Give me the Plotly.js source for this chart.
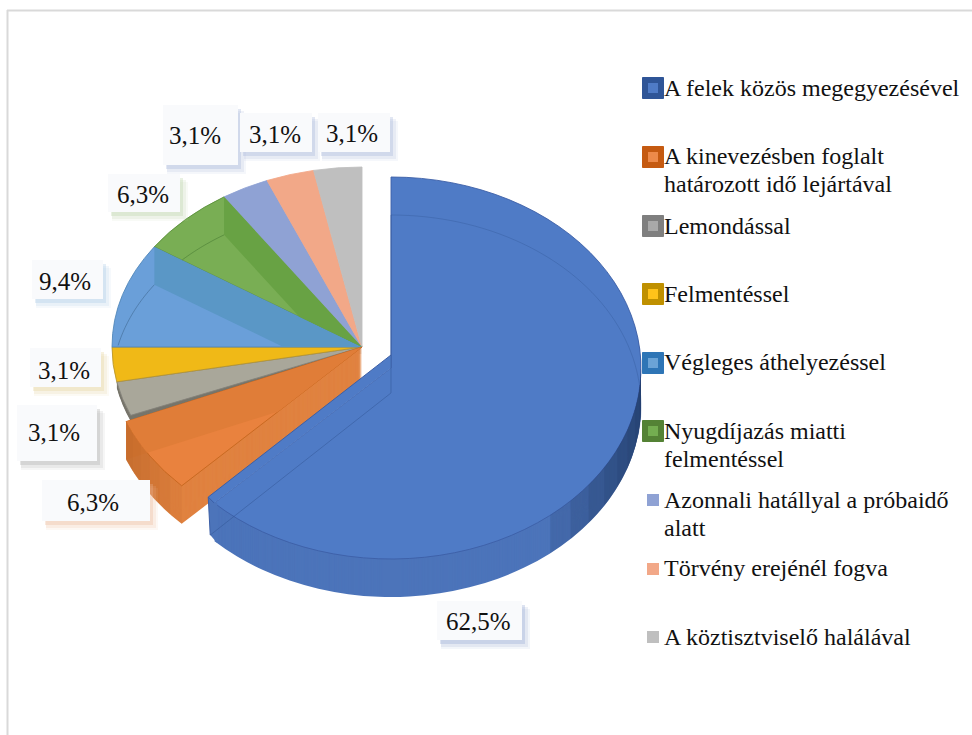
<!DOCTYPE html>
<html><head><meta charset="utf-8">
<script src="https://cdn.plot.ly/plotly-3.0.1.min.js"></script>
<style>html,body{margin:0;padding:0;background:#fff}#c{width:972px;height:735px}</style></head>
<body><div id="c"></div>
<script>
const categories = ["A felek közös megegyezésével","A kinevezésben foglalt<br>határozott idő lejártával","Lemondással","Felmentéssel","Végleges áthelyezéssel","Nyugdíjazás miatti<br>felmentéssel","Azonnali hatállyal a próbaidő<br>alatt","Törvény erejénél fogva","A köztisztviselő halálával"];
const shares = [62.5,6.3,3.1,3.1,9.4,6.3,3.1,3.1,3.1];
const shareLabels = ["62,5%","6,3%","3,1%","3,1%","9,4%","6,3%","3,1%","3,1%","3,1%"];
const topColors = ["#4f7bc6","#e9823e","#a9a79a","#f0b917","#6a9fd9","#79ae54","#8fa2d4","#f2a888","#bfbfbf"];
const lineColors = ["#3c5fa6","#c5661e","#85827a","#b8952c","#4f86b8","#5a8f3a","#8fa2d4","#f2a888","#bfbfbf"];
const legendOuter = ["#2f5597","#c55a11","#7f7f7f","#bf9000","#2e75b6","#548235",null,null,null];
const legendInner = ["#4f7bc6","#ed8a4a","#a9a9a9","#ffc31a","#6ba3d6","#74ad50","#8fa2d4","#f2a888","#bfbfbf"];
const legendLineY = [[88],[156,184],[226],[294],[362],[431,459],[500,528],[568],[637]];
const legendMarkY = [88,157,226,294,363,431,500,569,637];
const labelBoxes = [[437,601,522,640],[42,480,150,521],[17,405,97,461],[30,348,101,387],[32,260,103,299],[108,174,180,212],[163,105,238,165],[240,113,312,152],[318,113,390,152]];
const labelText = [[478,621],[93,502],[54,432],[64,370],[65,281],[143,194],[195,136],[275,134],[352,133]];
const labelTint = ["#8ea3cf","#eab795","#a9a9a9","#e3cf95","#a6c6e6","#b7cfa3","#9fb0d6","#9fb0d6","#9fb0d6"];

const W=972,H=735,T="rgba(0,0,0,0)";
const sum=shares.reduce((a,b)=>a+b,0);
const cum=[];shares.reduce((a,b,i)=>(cum[i]=a+b,cum[i]),0);
const ang=i=>(i<0?0:cum[i])/sum*2*Math.PI;
const place=[];
function pie(idx,colorOf,g,d,lw){
  place.push({cy:g.cy+d,k:g.k});
  return {type:'pie',values:shares,labels:categories,sort:false,direction:'clockwise',rotation:0,textinfo:'none',hoverinfo:'skip',showlegend:false,
    domain:{x:[(g.cx-g.r)/W,(g.cx+g.r)/W],y:[(H/2-g.r)/H,(H/2+g.r)/H]},
    marker:{colors:shares.map((_,i)=>idx.includes(i)?colorOf(i):T),
      line:{color:shares.map((_,i)=>idx.includes(i)&&lw?lineColors[i]:T),width:shares.map((_,i)=>idx.includes(i)&&lw?lw:0)}}};
}
const back={cx:362,cy:347,k:.72,r:250},org={cx:362,cy:347,k:.77,r:255},blu={cx:391,cy:368,k:.764,r:250};
const depth=38,data=[];
for(let d=6;d>0;d-=1)data.push(pie([2],()=>"#77756b",back,d,0));
data.push(pie([2,3,4,5,6,7,8],i=>topColors[i],back,0,1));
for(let d=depth;d>0;d-=1)data.push(pie([1],()=>"#e08240",org,d,0));
data.push(pie([1],i=>topColors[i],org,0,1));
for(let d=depth;d>0;d-=1)data.push(pie([0],()=>"#4c74ba",blu,d,0));
data.push(pie([0],i=>topColors[i],blu,0,1));

const px=x=>x/W, py=y=>1-y/H;
const pathOf=(pts,close)=>pts.map((p,i)=>(i?"L":"M")+px(p[0]).toFixed(5)+" "+py(p[1]).toFixed(5)).join(" ")+(close?" Z":"");
function rim(g,a,d){return [g.cx+g.r*Math.sin(a),g.cy+(d||0)-g.r*g.k*Math.cos(a)];}
function cross(a,b,c,e){const d1=[b[0]-a[0],b[1]-a[1]],d2=[e[0]-c[0],e[1]-c[1]];
  const t=((c[0]-a[0])*d2[1]-(c[1]-a[1])*d2[0])/(d1[0]*d2[1]-d1[1]*d2[0]);return [a[0]+t*d1[0],a[1]+t*d1[1]];}
const shapes=[];
const addPath=(pts,close,fill,line,op)=>shapes.push({type:'path',xref:'paper',yref:'paper',layer:'above',path:pathOf(pts,close),fillcolor:fill||T,opacity:op==null?1:op,line:line||{width:0}});
function band(g,i,d,fill,arc){
  const a1=ang(i),a0=ang(i-1),apex=[g.cx,g.cy],P1=rim(g,a1),P2=rim(g,a1,d),ap2=[g.cx,g.cy+d],P0=rim(g,a0);
  const P3=cross(P2,ap2,apex,P0);
  addPath([apex,P1,P2,P3],true,fill);
  if(!arc)return;
  const pts=[];const side=p=>(P0[0]-apex[0])*(p[1]-apex[1])-(P0[1]-apex[1])*(p[0]-apex[0]);
  const s0=side(P2);
  for(let t=0;t<=40;t++){const p=rim(g,a1+(a0-a1)*t/40,d);if(side(p)*s0<0)break;pts.push(p);}
  if(pts.length>1)addPath(pts,false,null,{color:arc,width:1});
}
function wallPiece(g,a0,a1,d,fill,op){
  const up=[],dn=[];
  for(let t=0;t<=16;t++){const a=a0+(a1-a0)*t/16;up.push(rim(g,a));dn.unshift(rim(g,a,d));}
  addPath(up.concat(dn),true,fill,null,op);
}
band(back,4,38,"#5a97c6","rgba(60,100,140,.55)");
band(back,5,38,"#68a244","rgba(70,120,50,.55)");
band(org,1,38,"#e07d38",null);
// shaded outer wall of the orange slice, darkest at its upper end (overlapping pieces, so no seams)
{const a0=ang(0),a1=ang(1),n=6;
 for(let j=1;j<=n;j++)wallPiece(org,a1,a1-(a1-a0)*j/n,depth,"#b8632a",.13);}
// perspective correction of the large slice: its apex and front corner sit further out than the ellipse gives
const apexLift=13,cornerOut=[-6,-6];
{const a=ang(0),c=rim(blu,a),ap=[blu.cx,blu.cy],ap1=[blu.cx,blu.cy-apexLift],c1=[c[0]+cornerOut[0],c[1]+cornerOut[1]];
 addPath([[c[0]+3,c[1]],c1,[c1[0]+2,c1[1]+depth],[c[0]+3,c[1]+depth+2]],true,"#4c74ba");
 addPath([ap1,c1,c,ap],true,topColors[0]);
 addPath([ap1,c1,[c1[0]+2,c1[1]+depth]],false,null,{color:lineColors[0],width:1});
 addPath([c1,c],false,null,{color:lineColors[0],width:1});
 // faint bottom-face outlines seen through the large slice
 const ap2=[blu.cx,blu.cy+depth-apexLift],e=[c1[0]+2,c1[1]+depth],pts=[];
 addPath([e,ap2,[blu.cx,rim(blu,0,depth)[1]]],false,null,{color:"rgba(50,85,150,.5)",width:1});
 for(let t=0;t<=50;t++)pts.push(rim(blu,t/50*Math.PI*.55,depth));
 addPath(pts,false,null,{color:"rgba(50,85,150,.35)",width:1});
 // dark shading of the wall at the right edge (overlapping pieces, so no seams)
 const s=Math.PI/2,step=.11;
 for(let j=1;j<=8;j++)wallPiece(blu,s,s+step*j,depth,"#1f3560",.17);
}
// frame
shapes.push({type:'line',xref:'paper',yref:'paper',x0:px(7.5),x1:px(7.5),y0:py(10),y1:py(735),line:{color:"#d9d9d9",width:2}});
shapes.push({type:'line',xref:'paper',yref:'paper',x0:px(7),x1:px(972),y0:py(10.5),y1:py(10.5),line:{color:"#d9d9d9",width:2}});
const rect=(x0,y0,x1,y1,fill,op)=>shapes.push({type:'rect',xref:'paper',yref:'paper',layer:'above',x0:px(x0),x1:px(x1),y0:py(y1),y1:py(y0),fillcolor:fill,opacity:op,line:{width:0}});
labelBoxes.forEach((b,i)=>{
  rect(b[0]+4,b[1]+8,b[2]+8,b[3]+9,labelTint[i],.10);
  rect(b[0]+4,b[1]+6,b[2]+6,b[3]+7,labelTint[i],.16);
  rect(b[0]+3,b[1]+4,b[2]+3,b[3]+4,labelTint[i],.3);
  rect(b[0],b[1],b[2],b[3],"#f9fafc",1);
});
legendMarkY.forEach((y,i)=>{
  if(legendOuter[i]){
    shapes.push({type:'rect',xref:'paper',yref:'paper',layer:'above',x0:px(642.5),x1:px(663.5),y0:py(y+10.5),y1:py(y-10.5),fillcolor:legendOuter[i],line:{color:legendOuter[i],width:1}});
    rect(648,y-5,658,y+5,legendInner[i],1);
  } else rect(647,y-6,659,y+6,legendInner[i],1);
});
const font={family:'"Liberation Serif","Times New Roman",serif',color:"#111"};
const annotations=[];
categories.forEach((c,i)=>c.split("<br>").forEach((line,j)=>annotations.push({xref:'paper',yref:'paper',x:px(663),y:py(legendLineY[i][j]),text:line,showarrow:false,borderpad:0,xanchor:'left',yanchor:'middle',align:'left',font:{...font,size:24}})));
shareLabels.forEach((t,i)=>annotations.push({xref:'paper',yref:'paper',x:px(labelText[i][0]),y:py(labelText[i][1]),text:t,showarrow:false,xanchor:'center',yanchor:'middle',font:{...font,size:25}}));
const layout={width:W,height:H,margin:{l:0,r:0,t:0,b:0},paper_bgcolor:"#fff",plot_bgcolor:"#fff",showlegend:false,shapes,annotations};
const gd=document.getElementById('c');
Plotly.newPlot(gd,data,layout,{displayModeBar:false,staticPlot:true}).then(()=>{
  gd.querySelectorAll('.pielayer .trace').forEach((g,i)=>{
    const p=place[i];
    g.setAttribute('transform',`translate(0,${p.cy}) scale(1,${p.k}) translate(0,${-H/2})`);
  });
});
</script></body></html>
